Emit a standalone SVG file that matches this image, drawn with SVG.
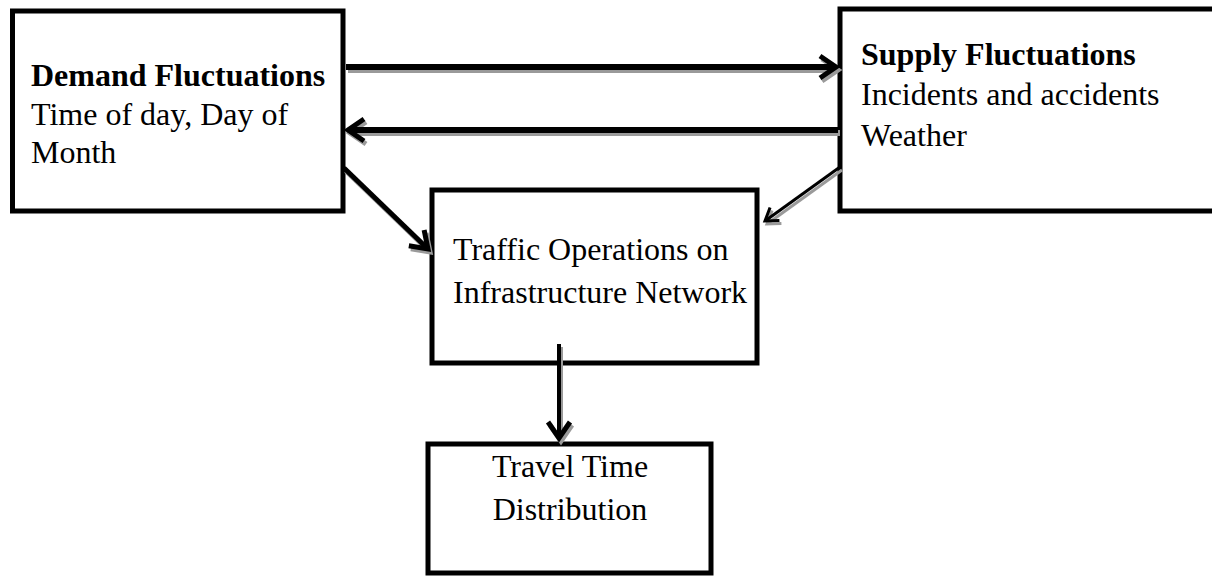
<svg xmlns="http://www.w3.org/2000/svg" width="1212" height="576" viewBox="0 0 1212 576">
  <style>
    .box { fill: #ffffff; stroke: #000000; stroke-width: 5; }
    .t { font-family: "Liberation Serif", "Times New Roman", serif; font-size: 32px; fill: #000000; }
    .b { font-weight: bold; }
    .c { fill: none; stroke: #000000; stroke-linecap: butt; }
    .s { fill: none; stroke: #9a9a9a; stroke-linecap: butt; }
  </style>
  <defs>
    <marker id="hd" markerUnits="userSpaceOnUse" markerWidth="40" markerHeight="40" viewBox="-30 -20 40 40" refX="0" refY="0" orient="auto" overflow="visible">
      <path d="M-16,-11 L0,0 L-16,11" fill="none" stroke="#000" stroke-width="5" stroke-linejoin="miter"/>
    </marker>
    <marker id="hds" markerUnits="userSpaceOnUse" markerWidth="40" markerHeight="40" viewBox="-30 -20 40 40" refX="0" refY="0" orient="auto" overflow="visible">
      <path d="M-16,-11 L0,0 L-16,11" fill="none" stroke="#9a9a9a" stroke-width="5" stroke-linejoin="miter"/>
    </marker>
    <marker id="hdt" markerUnits="userSpaceOnUse" markerWidth="30" markerHeight="30" viewBox="-20 -15 30 30" refX="0" refY="0" orient="auto" overflow="visible">
      <path d="M-12,-8 L0,0 L-12,8" fill="none" stroke="#000" stroke-width="3" stroke-linejoin="miter"/>
    </marker>
    <marker id="hdts" markerUnits="userSpaceOnUse" markerWidth="30" markerHeight="30" viewBox="-20 -15 30 30" refX="0" refY="0" orient="auto" overflow="visible">
      <path d="M-12,-8 L0,0 L-12,8" fill="none" stroke="#9a9a9a" stroke-width="3" stroke-linejoin="miter"/>
    </marker>
  </defs>
  <rect width="1212" height="576" fill="#ffffff"/>

  <g id="demand">
    <rect class="box" x="12.5" y="11" width="330.5" height="200"/>
    <text class="t b" x="31" y="86">Demand Fluctuations</text>
    <text class="t" x="31" y="125">Time of day, Day of</text>
    <text class="t" x="31" y="163">Month</text>
  </g>

  <g id="supply">
    <rect class="box" x="840" y="9" width="380" height="202"/>
    <text class="t b" x="861" y="65">Supply Fluctuations</text>
    <text class="t" x="861" y="105">Incidents and accidents</text>
    <text class="t" x="861" y="146">Weather</text>
  </g>

  <g id="traffic">
    <rect class="box" x="432" y="190" width="325" height="173"/>
    <text class="t" x="453" y="260">Traffic Operations on</text>
    <text class="t" x="453" y="303">Infrastructure Network</text>
  </g>

  <g id="travel">
    <rect class="box" x="428" y="444" width="283" height="129"/>
    <text class="t" x="570" y="477" text-anchor="middle">Travel Time</text>
    <text class="t" x="570" y="520" text-anchor="middle">Distribution</text>
  </g>

  <g id="connectors">
    <g transform="translate(2,3)">
      <path class="s" d="M346,67 L836,67" stroke-width="6" marker-end="url(#hds)"/>
      <path class="s" d="M838,130 L348,130" stroke-width="6" marker-end="url(#hds)"/>
      <path class="s" d="M344,168 L428,249" stroke-width="5" marker-end="url(#hds)"/>
      <path class="s" d="M840,167 L765,221" stroke-width="3" marker-end="url(#hdts)"/>
      <path class="s" d="M559,344 L559,438" stroke-width="4" marker-end="url(#hds)"/>
    </g>
    <path class="c" d="M346,67 L836,67" stroke-width="6" marker-end="url(#hd)"/>
    <path class="c" d="M838,130 L348,130" stroke-width="6" marker-end="url(#hd)"/>
    <path class="c" d="M344,168 L428,249" stroke-width="5" marker-end="url(#hd)"/>
    <path class="c" d="M840,167 L765,221" stroke-width="3" marker-end="url(#hdt)"/>
    <path class="c" d="M559,344 L559,438" stroke-width="4" marker-end="url(#hd)"/>
  </g>
</svg>
